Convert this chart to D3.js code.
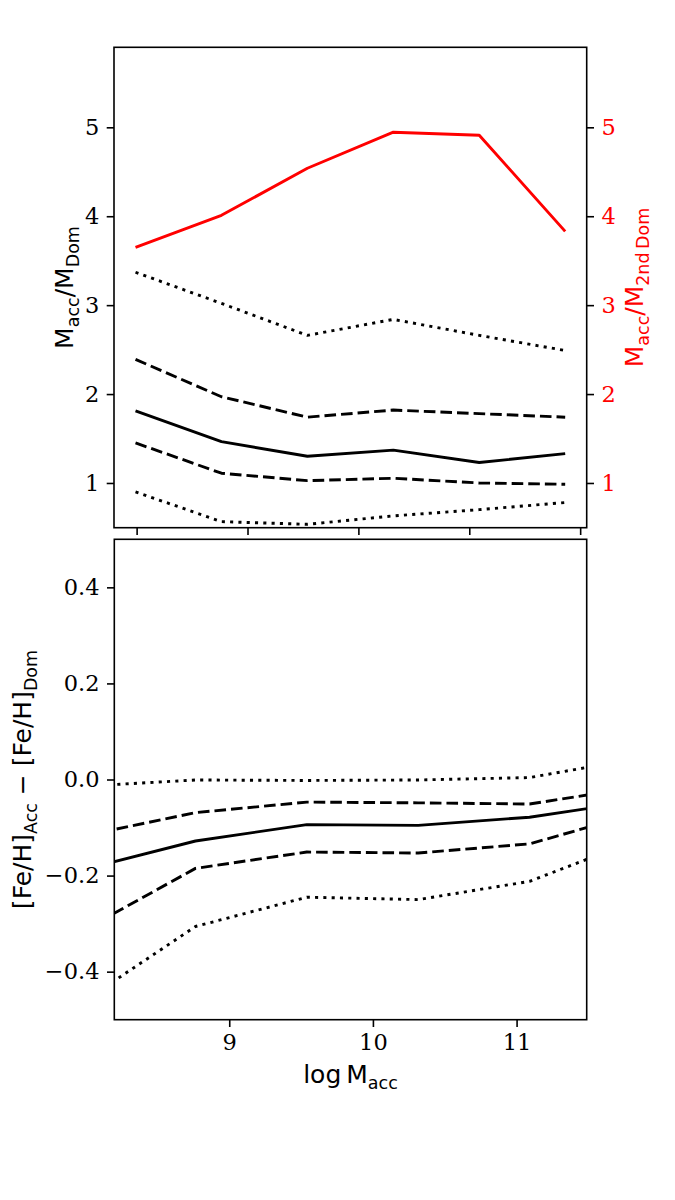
<!DOCTYPE html>
<html>
<head>
<meta charset="utf-8">
<script src="https://cdn.jsdelivr.net/npm/d3@7"></script>
<style>
  html, body { margin: 0; padding: 0; background: #fff; }
  svg { display: block; }
  .tick text { font-family: "DejaVu Serif", serif; }
</style>
</head>
<body>
<div id="chart"></div>
<script>
// ---------- data ----------
const logMacc = [7.99, 8.765, 9.54, 10.315, 11.09, 11.865];

// top panel: M_acc / M_Dom percentiles
const ratioDomP5  = [0.90, 0.565, 0.535, 0.63, 0.70, 0.78];
const ratioDomP16 = [1.45, 1.11, 1.026, 1.053, 1.00, 0.985];
const ratioDomP50 = [1.81, 1.465, 1.30, 1.37, 1.23, 1.33];
const ratioDomP84 = [2.39, 1.97, 1.74, 1.82, 1.78, 1.74];
const ratioDomP95 = [3.37, 3.02, 2.66, 2.84, 2.66, 2.49];
// top panel: M_acc / M_2ndDom (median)
const ratio2ndDom = [3.65, 4.01, 4.54, 4.945, 4.91, 3.83];

// bottom panel: [Fe/H]_Acc - [Fe/H]_Dom percentiles
const fehP5  = [-0.461, -0.306, -0.245, -0.250, -0.212, -0.123];
const fehP16 = [-0.313, -0.185, -0.151, -0.153, -0.134, -0.068];
const fehP50 = [-0.187, -0.128, -0.094, -0.0955, -0.0785, -0.044];
const fehP84 = [-0.117, -0.069, -0.047, -0.0486, -0.051, -0.015];
const fehP95 = [-0.014, -0.001, -0.002, -0.001, 0.004, 0.045];

const topXTicks = [8, 9, 10, 11, 12];
const topYTicks = [1, 2, 3, 4, 5];
const botXTicks = [9, 10, 11];
const botYTicks = [-0.4, -0.2, 0.0, 0.2, 0.4];

// ---------- layout ----------
const W = 675, H = 1200;
const svg = d3.select("#chart").append("svg").attr("width", W).attr("height", H);

const topBox = {x0: 114, x1: 586.7, y0: 47.3, y1: 527.7};
const botBox = {x0: 114.3, x1: 586.7, y0: 539.3, y1: 1019.7};

const xTop = d3.scaleLinear().domain([7.796, 12.059]).range([topBox.x0, topBox.x1]);
const yTop = d3.scaleLinear().domain([0.497, 5.9]).range([topBox.y1, topBox.y0]);
const xBot = d3.scaleLinear().domain([8.2, 11.488]).range([botBox.x0, botBox.x1]);
const yBot = d3.scaleLinear().domain([-0.5, 0.5]).range([botBox.y1, botBox.y0]);

const LW = 2.9;
const dashed = "11.6,5";
const dotted = "3.1,5.2";
const tickFont = 22.5;
const labelFont = 25;
const fmtMinus = d => (d < 0 ? "\u2212" : "") + Math.abs(d).toFixed(1);

// clip paths
const defs = svg.append("defs");
defs.append("clipPath").attr("id", "clipTop").append("rect")
  .attr("x", topBox.x0).attr("y", topBox.y0)
  .attr("width", topBox.x1 - topBox.x0).attr("height", topBox.y1 - topBox.y0);
defs.append("clipPath").attr("id", "clipBot").append("rect")
  .attr("x", botBox.x0).attr("y", botBox.y0)
  .attr("width", botBox.x1 - botBox.x0).attr("height", botBox.y1 - botBox.y0);

function drawLine(g, xs, ys, xScale, yScale, color, dash) {
  const line = d3.line().x((d, i) => xScale(xs[i])).y(d => yScale(d));
  g.append("path").datum(ys)
    .attr("d", line)
    .attr("fill", "none")
    .attr("stroke", color)
    .attr("stroke-width", LW)
    .attr("stroke-dasharray", dash || null)
    .attr("stroke-linecap", "butt")
    .attr("stroke-linejoin", "round");
}

function styleAxis(g, color) {
  g.select(".domain").remove();
  g.selectAll(".tick line").attr("stroke", "#000").attr("stroke-width", 1.6);
  g.selectAll(".tick text").attr("fill", color).attr("font-size", tickFont)
    .attr("font-family", "DejaVu Serif");
}

// ---------- top panel ----------
const gTopLines = svg.append("g").attr("clip-path", "url(#clipTop)");
drawLine(gTopLines, logMacc, ratio2ndDom, xTop, yTop, "#ff0000", null);
drawLine(gTopLines, logMacc, ratioDomP95, xTop, yTop, "#000", dotted);
drawLine(gTopLines, logMacc, ratioDomP84, xTop, yTop, "#000", dashed);
drawLine(gTopLines, logMacc, ratioDomP50, xTop, yTop, "#000", null);
drawLine(gTopLines, logMacc, ratioDomP16, xTop, yTop, "#000", dashed);
drawLine(gTopLines, logMacc, ratioDomP5, xTop, yTop, "#000", dotted);

const gTopLeft = svg.append("g").attr("transform", `translate(${topBox.x0},0)`)
  .call(d3.axisLeft(yTop).tickValues(topYTicks).tickFormat(d3.format("d")).tickSize(7.3).tickPadding(7.5));
styleAxis(gTopLeft, "#000");
const gTopRight = svg.append("g").attr("transform", `translate(${topBox.x1},0)`)
  .call(d3.axisRight(yTop).tickValues(topYTicks).tickFormat(d3.format("d")).tickSize(7.3).tickPadding(7.5));
styleAxis(gTopRight, "#ff0000");
const gTopBottom = svg.append("g").attr("transform", `translate(0,${topBox.y1})`)
  .call(d3.axisBottom(xTop).tickValues(topXTicks).tickFormat("").tickSize(7.3));
styleAxis(gTopBottom, "#000");

svg.append("rect").attr("x", topBox.x0).attr("y", topBox.y0)
  .attr("width", topBox.x1 - topBox.x0).attr("height", topBox.y1 - topBox.y0)
  .attr("fill", "none").attr("stroke", "#000").attr("stroke-width", 1.6);

// ---------- bottom panel ----------
const gBotLines = svg.append("g").attr("clip-path", "url(#clipBot)");
drawLine(gBotLines, logMacc, fehP95, xBot, yBot, "#000", dotted);
drawLine(gBotLines, logMacc, fehP84, xBot, yBot, "#000", dashed);
drawLine(gBotLines, logMacc, fehP50, xBot, yBot, "#000", null);
drawLine(gBotLines, logMacc, fehP16, xBot, yBot, "#000", dashed);
drawLine(gBotLines, logMacc, fehP5, xBot, yBot, "#000", dotted);

const gBotLeft = svg.append("g").attr("transform", `translate(${botBox.x0},0)`)
  .call(d3.axisLeft(yBot).tickValues(botYTicks).tickFormat(fmtMinus).tickSize(7.3).tickPadding(7.5));
styleAxis(gBotLeft, "#000");
const gBotBottom = svg.append("g").attr("transform", `translate(0,${botBox.y1})`)
  .call(d3.axisBottom(xBot).tickValues(botXTicks).tickFormat(d3.format("d")).tickSize(7.3).tickPadding(7.5));
styleAxis(gBotBottom, "#000");

svg.append("rect").attr("x", botBox.x0).attr("y", botBox.y0)
  .attr("width", botBox.x1 - botBox.x0).attr("height", botBox.y1 - botBox.y0)
  .attr("fill", "none").attr("stroke", "#000").attr("stroke-width", 1.6);

// ---------- axis labels ----------
function mathLabel(x, y, rot, parts, color) {
  const t = svg.append("text")
    .attr("transform", `translate(${x},${y}) rotate(${rot})`)
    .attr("text-anchor", "middle")
    .attr("font-family", "DejaVu Sans")
    .attr("font-size", labelFont)
    .attr("fill", color);
  parts.forEach(p => {
    const s = t.append("tspan").text(p.t);
    if (p.sub) {
      s.attr("font-size", labelFont * 0.7).attr("dy", labelFont * 0.22);
    } else if (p.after) {
      s.attr("dy", -labelFont * 0.22);
    }
  });
  return t;
}

mathLabel(73, 287.5, -90, [
  {t: "M"}, {t: "acc", sub: true}, {t: "/M", after: true}, {t: "Dom", sub: true}
], "#000");

mathLabel(643, 287.5, -90, [
  {t: "M"}, {t: "acc", sub: true}, {t: "/M", after: true}, {t: "2nd\u2009Dom", sub: true}
], "#ff0000");

mathLabel(31, 779.5, -90, [
  {t: "[Fe/H]"}, {t: "Acc", sub: true}, {t: " \u2212 [Fe/H]", after: true}, {t: "Dom", sub: true}
], "#000");

mathLabel(350.5, 1083, 0, [
  {t: "log\u2009M"}, {t: "acc", sub: true}
], "#000");
</script>
</body>
</html>
